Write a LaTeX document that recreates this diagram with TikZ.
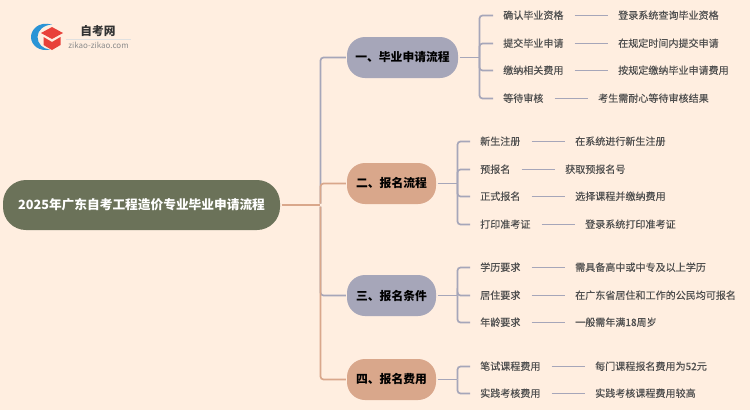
\documentclass[tikz,border=0pt]{standalone}
\usepackage{fontspec}
\setmainfont{Noto Sans CJK SC}
\newfontfamily\leaffont[FakeBold=0.2]{Noto Sans CJK SC}
\definecolor{bgc}{HTML}{FFEEE0}
\definecolor{lav}{HTML}{A6A6B9}
\definecolor{pch}{HTML}{D9A78B}
\definecolor{rootc}{HTML}{6B7259}
\definecolor{leaftxt}{HTML}{4F4F4F}
\definecolor{logoblue}{HTML}{2A94D6}
\definecolor{logored}{HTML}{E8413A}
\tikzset{
  rootbox/.style={rectangle,rounded corners=23pt,fill=rootc,text=white,font=\fontsize{12.7pt}{14pt}\selectfont\bfseries,minimum width=277pt,minimum height=50pt,inner sep=0},
  branchbox/.style={rectangle,rounded corners=18pt,font=\fontsize{11.8pt}{14pt}\selectfont\bfseries,text=black,minimum height=41pt,inner sep=0},
  lavbox/.style={branchbox,fill=lav},
  pchbox/.style={branchbox,fill=pch},
  leaftext/.style={anchor=west,inner sep=0,text=leaftxt,font=\leaffont\fontsize{10.05pt}{12pt}\selectfont,text height=8.5pt,text depth=1.5pt},
  edge1/.style={line width=1.7pt,rounded corners=3pt,shorten <=1.5pt,shorten >=1pt},
  edgelav/.style={edge1,draw=lav},
  edgepch/.style={edge1,draw=pch},
  twig/.style={line width=1.7pt,draw=lav,rounded corners=3pt,shorten >=10pt},
  link/.style={line width=1.7pt,draw=lav,shorten <=11pt,shorten >=10pt}
}
\newcommand{\leafrow}[7]{%
  \node[leaftext] (#1a) at (#3,#2) {#4};
  \node[leaftext] (#1b) at (#5,#2) {#6};
  \draw[link] (#1a.east) -- (#1b.west);
  \draw[twig] (#7) |- (#1a.west);
}
\begin{document}
\begin{tikzpicture}[x=1pt,y=-1pt]
\useasboundingbox (0,0) rectangle (750,410);
\fill[bgc] (0,0) rectangle (750,410);

% logo
\fill[logoblue] (52,24.5) .. controls (38,21) and (31,30) .. (31,37) .. controls (31,45) and (39,52) .. (50,49.5) .. controls (43,49) and (37.5,44) .. (37.5,37) .. controls (37.5,30) and (44,25) .. (52,24.5) -- cycle;
\fill[logored] (41,33) -- (52,27) -- (63,33) -- (52,39) -- cycle;
\fill[logored] (43.5,37) -- (52,42) -- (60.5,37) -- (60.5,45) -- (52,50) -- (43.5,45) -- cycle;
\node[inner sep=0,font=\fontsize{11.7pt}{13pt}\selectfont\bfseries,text=black!80] (logotitle) at (98,31) {自考网};
\node[inner sep=0,font=\fontsize{8pt}{9pt}\selectfont,text=black!45] (logosub) at (98.5,45) {zikao-zikao.com};
\draw[black!12,line width=0.5pt] (66,39) -- (131,39);

% main nodes
\node[rootbox] (root) at (141.5,205) {2025年广东自考工程造价专业毕业申请流程};
\node[lavbox,minimum width=111pt] (b1) at (402.5,57.5) {一、毕业申请流程};
\node[pchbox,minimum width=89pt] (b2) at (391.5,183.5) {二、报名流程};
\node[lavbox,minimum width=89pt] (b3) at (391.5,295.5) {三、报名条件};
\node[pchbox,minimum width=89pt] (b4) at (391.5,379.5) {四、报名费用};

\coordinate (t0) at (320.5,205);
\draw[edgelav] (t0) |- (b1.west);
\draw[edgepch] (t0) |- (b2.west);
\draw[edgelav] (t0) |- (b3.west);
\draw[edgepch] (t0) |- (b4.west);
\draw[edgepch] (root.east) -- (t0);

\coordinate (j1) at (479.5,57.5);
\coordinate (j2) at (457.5,183.5);
\coordinate (j3) at (457.5,295.5);
\coordinate (j4) at (457.5,379.5);
\draw[edgelav] (b1.east) -- (j1);
\draw[edgelav] (b2.east) -- (j2);
\draw[edgelav] (b3.east) -- (j3);
\draw[edgelav] (b4.east) -- (j4);

\leafrow{la}{15.5}{503}{确认毕业资格}{618}{登录系统查询毕业资格}{j1}
\leafrow{lb}{43.5}{503}{提交毕业申请}{618}{在规定时间内提交申请}{j1}
\leafrow{lc}{70.5}{503}{缴纳相关费用}{618}{按规定缴纳毕业申请费用}{j1}
\leafrow{ld}{98.5}{503}{等待审核}{598}{考生需耐心等待审核结果}{j1}

\leafrow{ma}{141.5}{480}{新生注册}{575}{在系统进行新生注册}{j2}
\leafrow{mb}{169.5}{480}{预报名}{565}{获取预报名号}{j2}
\leafrow{mc}{196.5}{480}{正式报名}{575}{选择课程并缴纳费用}{j2}
\leafrow{md}{224.5}{480}{打印准考证}{585}{登录系统打印准考证}{j2}

\leafrow{na}{267.5}{480}{学历要求}{575}{需具备高中或中专及以上学历}{j3}
\leafrow{nb}{295.5}{480}{居住要求}{575}{在广东省居住和工作的公民均可报名}{j3}
\leafrow{nc}{322.5}{480}{年龄要求}{575}{一般需年满18周岁}{j3}

\leafrow{oa}{366.5}{480}{笔试课程费用}{595}{每门课程报名费用为52元}{j4}
\leafrow{ob}{393.5}{480}{实践考核费用}{595}{实践考核课程费用较高}{j4}
\end{tikzpicture}
\end{document}
